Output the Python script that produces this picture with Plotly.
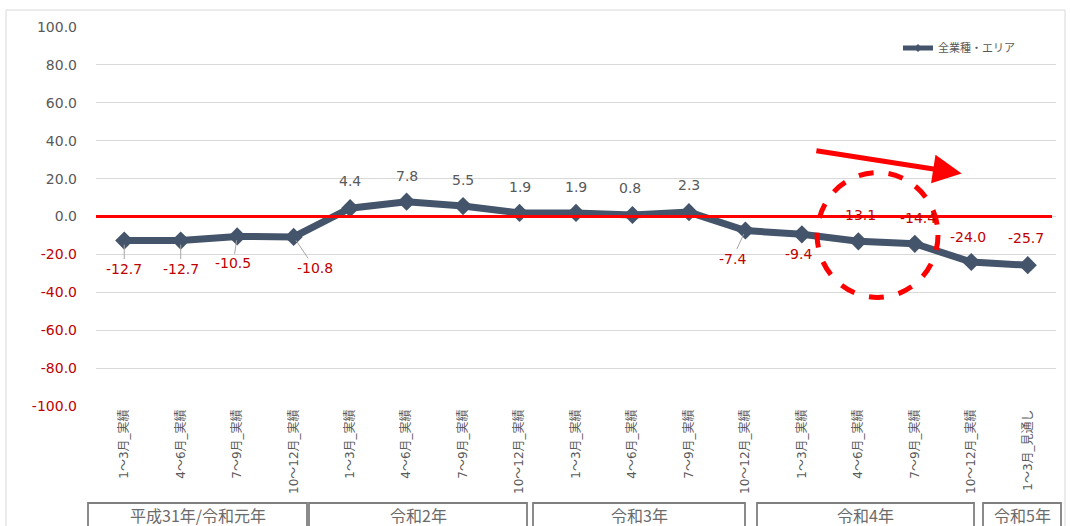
import plotly.graph_objects as go

# Quarterly DI (全業種・エリア)
periods = [
    "1～3月_実績", "4～6月_実績", "7～9月_実績", "10～12月_実績",
    "1～3月_実績", "4～6月_実績", "7～9月_実績", "10～12月_実績",
    "1～3月_実績", "4～6月_実績", "7～9月_実績", "10～12月_実績",
    "1～3月_実績", "4～6月_実績", "7～9月_実績", "10～12月_実績",
    "1～3月_見通し",
]
values = [-12.7, -12.7, -10.5, -10.8, 4.4, 7.8, 5.5, 1.9, 1.9, 0.8, 2.3,
          -7.4, -9.4, -13.1, -14.4, -24.0, -25.7]
series_name = "全業種・エリア"
year_groups = ["平成31年/令和元年", "令和2年", "令和3年", "令和4年", "令和5年"]
y_ticks = [100, 80, 60, 40, 20, 0, -20, -40, -60, -80, -100]

FONT = "DejaVu Sans, Noto Sans CJK JP"
CJK = "Noto Sans CJK JP"
GRAY = "#595959"
NEG = "#c00000"
LINE = "#44546a"

x = list(range(len(values)))

fig = go.Figure()
fig.add_trace(go.Scatter(
    x=x, y=values, name=series_name, mode="lines+markers",
    line=dict(color=LINE, width=7),
    marker=dict(symbol="diamond", size=14, color=LINE),
    hoverinfo="skip", showlegend=False,
))
# legend entry drawn with a slimmer line sample
fig.add_trace(go.Scatter(
    x=[None], y=[None], name=series_name, mode="lines+markers",
    line=dict(color=LINE, width=5),
    marker=dict(symbol="diamond", size=6, color=LINE),
    hoverinfo="skip", showlegend=True,
))

# data label offsets in pixels (dx, dy) and whether a leader line is drawn
label_offsets = [(0, 28, True), (0, 28, True), (-4, 27, True), (21, 31, True),
                 (0, -27, False), (0, -26, False), (0, -26, False), (0, -26, False),
                 (0, -26, False), (-2, -27, False), (0, -27, False),
                 (-13, 28, True), (-3, 20, False), (0, -26, False), (3, -26, False),
                 (-3, -25, False), (-2, -27, False)]

annotations = []
for i, v in enumerate(values):
    dx, dy, leader = label_offsets[i]
    color = GRAY if v >= 0 else NEG
    txt = f"{v:.1f}"
    if leader:
        annotations.append(dict(
            x=i, y=v, xref="x", yref="y", text=txt, showarrow=True,
            ax=dx, ay=dy, arrowhead=0, arrowwidth=1, arrowcolor="#a6a6a6",
            standoff=4, font=dict(family=FONT, size=14, color=color),
        ))
    else:
        annotations.append(dict(
            x=i, y=v, xref="x", yref="y", text=txt, showarrow=False,
            xshift=dx, yshift=-dy, font=dict(family=FONT, size=14, color=color),
        ))

# downward trend arrow
annotations.append(dict(
    x=14.83, y=22.7, ax=12.23, ay=34.8, xref="x", yref="y", axref="x", ayref="y",
    text="", showarrow=True, arrowhead=2, arrowsize=1.15, arrowwidth=5,
    arrowcolor="#ff0000",
))

# year group boxes below the axis
box_spans = [(88, 307), (309, 527), (533, 745), (757, 974), (983, 1061)]
L, R, T, B = 96, 14, 27, 120
W, H = 1070, 526
pw = W - L - R
ph = H - T - B


def px_to_paper_x(px):
    return (px - L) / pw


def py_to_paper_y(py):
    return (H - B - py) / ph


shapes = []
for name, (a, b) in zip(year_groups, box_spans):
    shapes.append(dict(
        type="rect", xref="paper", yref="paper",
        x0=px_to_paper_x(a), x1=px_to_paper_x(b),
        y0=py_to_paper_y(540), y1=py_to_paper_y(503),
        line=dict(color="#7f7f7f", width=1.8), layer="above",
    ))
    annotations.append(dict(
        xref="paper", yref="paper", x=px_to_paper_x((a + b) / 2),
        y=py_to_paper_y(515), xanchor="center", yanchor="middle",
        text=name, showarrow=False,
        font=dict(family=CJK, size=16, color="#6b6b6b"),
    ))

# zero reference line
shapes.append(dict(
    type="line", xref="paper", yref="y", x0=0, x1=px_to_paper_x(1052), y0=0, y1=0,
    line=dict(color="#ff0000", width=3), layer="above",
))

# dashed highlight ellipse
shapes.append(dict(
    type="circle", xref="x", yref="y", x0=12.27, x1=14.41, y0=-42.7, y1=23.2,
    line=dict(color="#ff0000", width=5, dash="dash"), layer="above",
))

# outer chart border
shapes.append(dict(
    type="rect", xref="paper", yref="paper",
    x0=px_to_paper_x(6), x1=px_to_paper_x(1065),
    y0=py_to_paper_y(540), y1=py_to_paper_y(10),
    line=dict(color="#d9d9d9", width=1), layer="below",
))

tick_text = [f'<span style="color:{GRAY if t >= 0 else NEG}">{t:.1f}</span>' for t in y_ticks]

fig.update_layout(
    width=W, height=H,
    margin=dict(l=L, r=R, t=T, b=B),
    paper_bgcolor="white", plot_bgcolor="white",
    font=dict(family=FONT, color=GRAY),
    showlegend=True,
    legend=dict(
        x=px_to_paper_x(1020), y=py_to_paper_y(48), xanchor="right", yanchor="middle",
        font=dict(family=CJK, size=11, color=GRAY), bgcolor="rgba(0,0,0,0)",
        itemwidth=30,
    ),
    xaxis=dict(
        range=[-0.5, len(values) - 0.5], tickmode="array", tickvals=x, ticktext=periods,
        tickangle=-90, tickfont=dict(family=FONT, size=12, color=GRAY),
        showgrid=False, zeroline=False, showline=False, ticks="",
    ),
    yaxis=dict(
        range=[-100, 100], tickmode="array", tickvals=y_ticks, ticktext=tick_text,
        tickfont=dict(family=FONT, size=14), showgrid=True, gridcolor="#d9d9d9",
        gridwidth=1, zeroline=False, showline=False, ticks="", ticklabelstandoff=18,
    ),
    shapes=shapes,
    annotations=annotations,
)

fig.write_html("out.html")
